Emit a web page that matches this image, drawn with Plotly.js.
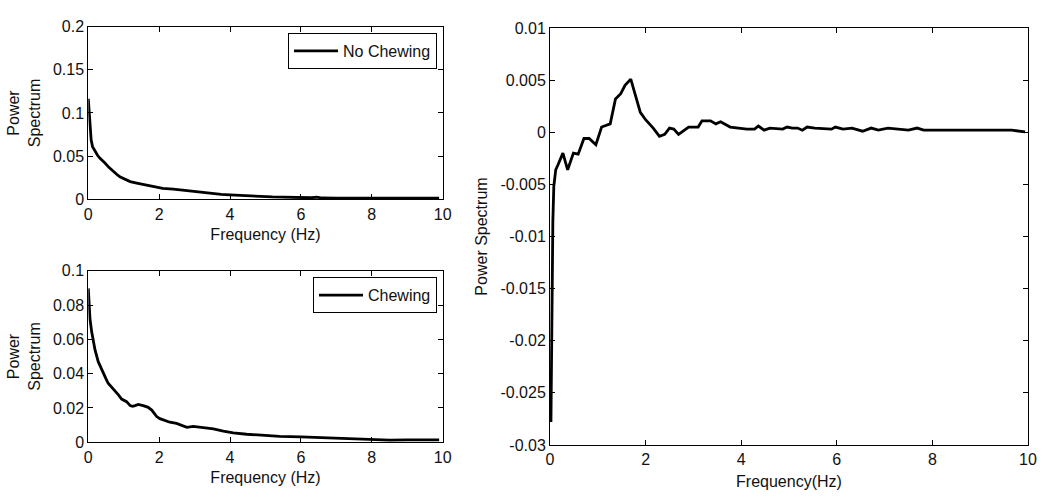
<!DOCTYPE html>
<html>
<head>
<meta charset="utf-8">
<script src="https://cdn.plot.ly/plotly-3.0.1.min.js"></script>
<style>html,body{margin:0;padding:0;background:#fff;}#chart{width:1050px;height:499px;}</style>
</head>
<body>
<div id="chart"></div>
<script>
// No Chewing power spectrum (top-left)
const ncFreq = [0, 0.03, 0.05, 0.08, 0.12, 0.19, 0.26, 0.33, 0.4, 0.47, 0.58, 0.7, 0.8, 0.89, 1.0, 1.18, 1.4, 1.65, 1.9, 2.1, 2.4, 2.6, 2.85, 3.06, 3.3, 3.5, 3.75, 4.0, 4.25, 4.47, 4.7, 4.9, 5.2, 5.5, 5.8, 6.1, 6.3, 6.45, 6.6, 7.0, 7.5, 8.0, 8.5, 9.0, 9.5, 9.9];
const ncPower = [0.1165, 0.098, 0.084, 0.069, 0.061, 0.055, 0.051, 0.0475, 0.045, 0.042, 0.037, 0.032, 0.029, 0.026, 0.024, 0.0205, 0.0185, 0.0162, 0.0145, 0.0127, 0.0118, 0.0108, 0.0095, 0.0083, 0.0072, 0.0064, 0.0057, 0.0052, 0.0046, 0.0042, 0.0036, 0.003, 0.0027, 0.0025, 0.0023, 0.0021, 0.0018, 0.0026, 0.0015, 0.0014, 0.0014, 0.0013, 0.0013, 0.0012, 0.0012, 0.0012];

// Chewing power spectrum (bottom-left)
const chFreq = [0, 0.02, 0.047, 0.094, 0.14, 0.19, 0.28, 0.35, 0.42, 0.5, 0.56, 0.63, 0.7, 0.78, 0.85, 0.94, 1.08, 1.18, 1.25, 1.32, 1.41, 1.55, 1.69, 1.79, 1.86, 1.93, 2.02, 2.12, 2.3, 2.49, 2.68, 2.78, 2.96, 3.25, 3.53, 3.81, 4.09, 4.47, 4.94, 5.4, 6.0, 6.5, 7.0, 7.5, 8.0, 8.5, 9.0, 9.5, 9.9];
const chPower = [0.0897, 0.079, 0.072, 0.0645, 0.058, 0.0538, 0.047, 0.0435, 0.040, 0.037, 0.0344, 0.0328, 0.0314, 0.0298, 0.0276, 0.0252, 0.0237, 0.0214, 0.021, 0.0214, 0.0221, 0.0214, 0.0204, 0.0188, 0.0168, 0.015, 0.0138, 0.013, 0.0117, 0.011, 0.0097, 0.0087, 0.0093, 0.0085, 0.0078, 0.0065, 0.0055, 0.0047, 0.0039, 0.0035, 0.0032, 0.0028, 0.0023, 0.002, 0.0015, 0.0013, 0.0014, 0.0014, 0.0014];

// Difference spectrum (right)
const diffFreq = [0.02, 0.04, 0.06, 0.08, 0.12, 0.17, 0.27, 0.37, 0.49, 0.59, 0.71, 0.82, 0.96, 1.08, 1.26, 1.37, 1.48, 1.57, 1.69, 1.89, 2.0, 2.16, 2.29, 2.4, 2.5, 2.59, 2.69, 2.9, 3.1, 3.18, 3.36, 3.47, 3.57, 3.77, 3.97, 4.12, 4.28, 4.36, 4.48, 4.6, 4.87, 4.96, 5.07, 5.18, 5.28, 5.38, 5.54, 5.89, 5.97, 6.13, 6.32, 6.54, 6.72, 6.87, 7.07, 7.3, 7.5, 7.68, 7.82, 8.33, 8.8, 9.27, 9.66, 9.94];
const diffPower = [-0.0278, -0.015, -0.0085, -0.0052, -0.0036, -0.0031, -0.002, -0.0036, -0.002, -0.0021, -0.0006, -0.0006, -0.0012, 0.0005, 0.0008, 0.0032, 0.0037, 0.0045, 0.0051, 0.0019, 0.0012, 0.0004, -0.0004, -0.0002, 0.0004, 0.0003, -0.0002, 0.0005, 0.0005, 0.0011, 0.0011, 0.0008, 0.001, 0.0005, 0.0004, 0.0003, 0.0003, 0.0006, 0.0002, 0.0004, 0.0003, 0.0005, 0.0004, 0.0004, 0.0002, 0.0005, 0.0004, 0.0003, 0.0005, 0.0003, 0.0004, 0.0001, 0.0004, 0.0002, 0.0004, 0.0003, 0.0002, 0.0004, 0.0002, 0.0002, 0.0002, 0.0002, 0.0002, 0.00003];

// Tick labels
const xTickVals = [0, 2, 4, 6, 8, 10];
const xTickText = ['0', '2', '4', '6', '8', '10'];
const y1TickVals = [0, 0.05, 0.1, 0.15, 0.2];
const y1TickText = ['0', '0.05', '0.1', '0.15', '0.2'];
const y2TickVals = [0, 0.02, 0.04, 0.06, 0.08, 0.1];
const y2TickText = ['0', '0.02', '0.04', '0.06', '0.08', '0.1'];
const y3TickVals = [-0.03, -0.025, -0.02, -0.015, -0.01, -0.005, 0, 0.005, 0.01];
const y3TickText = ['-0.03', '-0.025', '-0.02', '-0.015', '-0.01', '-0.005', '0', '0.005', '0.01'];

const FONT = 'Liberation Sans, Arial, Helvetica, sans-serif';
const tickFont = {family: FONT, size: 16, color: '#111'};
const titleFont = {family: FONT, size: 16, color: '#111'};

function axis(extra) {
  return Object.assign({
    showline: true, linecolor: '#000', linewidth: 1, mirror: 'ticks',
    ticks: 'inside', ticklen: 5, tickcolor: '#000', tickwidth: 1,
    showgrid: false, zeroline: false, tickfont: tickFont, fixedrange: true
  }, extra);
}

const lineStyle = {color: '#000', width: 2.8};

const traces = [
  {x: ncFreq, y: ncPower, type: 'scatter', mode: 'lines', name: 'No Chewing', line: lineStyle, xaxis: 'x', yaxis: 'y', legend: 'legend'},
  {x: chFreq, y: chPower, type: 'scatter', mode: 'lines', name: 'Chewing', line: lineStyle, xaxis: 'x2', yaxis: 'y2', legend: 'legend2'},
  {x: diffFreq, y: diffPower, type: 'scatter', mode: 'lines', name: 'Difference', line: lineStyle, xaxis: 'x3', yaxis: 'y3', showlegend: false}
];

const legendStyle = {
  bgcolor: '#fff', bordercolor: '#000', borderwidth: 1,
  font: {family: FONT, size: 16, color: '#111'},
  xanchor: 'right', yanchor: 'top', xref: 'paper', yref: 'paper',
  itemwidth: 44, tracegroupgap: 0,
  itemclick: false, itemdoubleclick: false
};

const layout = {
  width: 1050, height: 499,
  margin: {l: 0, r: 0, t: 0, b: 0},
  paper_bgcolor: '#fff', plot_bgcolor: '#fff',
  font: {family: FONT, color: '#111'},
  showlegend: true,
  xaxis: axis({domain: [0.0841, 0.4216], anchor: 'y', range: [0, 10], tickvals: xTickVals, ticktext: xTickText,
    title: {text: 'Frequency (Hz)', font: titleFont, standoff: 7}}),
  yaxis: axis({domain: [0.6006, 0.9465], anchor: 'x', range: [0, 0.2], tickvals: y1TickVals, ticktext: y1TickText,
    title: {text: 'Power<br>Spectrum', font: titleFont, standoff: 8}}),
  xaxis2: axis({domain: [0.0841, 0.4216], anchor: 'y2', range: [0, 10], tickvals: xTickVals, ticktext: xTickText,
    title: {text: 'Frequency (Hz)', font: titleFont, standoff: 7}}),
  yaxis2: axis({domain: [0.1136, 0.4575], anchor: 'x2', range: [0, 0.1], tickvals: y2TickVals, ticktext: y2TickText,
    title: {text: 'Power<br>Spectrum', font: titleFont, standoff: 8}}),
  xaxis3: axis({domain: [0.5238, 0.9790], anchor: 'y3', range: [0, 10], tickvals: xTickVals, ticktext: xTickText,
    title: {text: 'Frequency(Hz)', font: titleFont, standoff: 8}}),
  yaxis3: axis({domain: [0.1082, 0.9439], anchor: 'x3', range: [-0.03, 0.01], tickvals: y3TickVals, ticktext: y3TickText,
    title: {text: 'Power Spectrum', font: titleFont, standoff: 8}}),
  legend: Object.assign({x: 0.4162, y: 0.9339}, legendStyle),
  legend2: Object.assign({x: 0.4162, y: 0.4443}, legendStyle)
};

Plotly.newPlot('chart', traces, layout, {displayModeBar: false, staticPlot: true});
</script>
</body>
</html>
